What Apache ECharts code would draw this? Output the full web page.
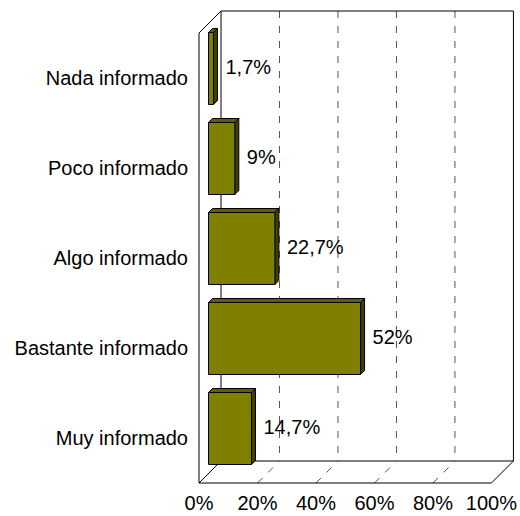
<!DOCTYPE html>
<html>
<head>
<meta charset="utf-8">
<script src="https://cdn.jsdelivr.net/npm/echarts@6/dist/echarts.min.js"></script>
<style>
  html, body { margin: 0; padding: 0; background: #fff; }
  #chart { width: 520px; height: 516px; }
</style>
</head>
<body>
<div id="chart"></div>
<script>
// data
const categories = ['Nada informado', 'Poco informado', 'Algo informado', 'Bastante informado', 'Muy informado'];
const values = [1.7, 9, 22.7, 52, 14.7];
const xTicks = [0, 20, 40, 60, 80, 100];

const FONT = 'Arial, "Liberation Sans", sans-serif';
const DEPTH = 22;      // depth of the 3d box
const BAR_SHIFT = 9.5; // bar front face sits a bit behind the front plane
const BAR_DEPTH = 4;

function fmt(v) {
    return String(v).replace('.', ',') + '%';
}

// back wall, left wall and floor of the 3d box
function renderFrame(params, api) {
    const cs = params.coordSys;
    const x = cs.x, y = cs.y, w = cs.width, h = cs.height, D = DEPTH;
    const children = [];
    const solid = { stroke: '#000', lineWidth: 1, fill: null };
    const dashed = { stroke: '#555', lineWidth: 1, lineDash: [7, 8], fill: null };

    children.push({
        type: 'polygon',
        shape: { points: [[x, y + h], [x + w, y + h], [x + w + D, y + h - D], [x + D, y + h - D]] },
        style: { fill: '#fff', stroke: null }
    });
    xTicks.slice(1, -1).forEach(function (t) {
        const px = api.coord([t, 0])[0];
        children.push({ type: 'line', shape: { x1: px + D, y1: y - D, x2: px + D, y2: y + h - D }, style: dashed });
        children.push({ type: 'line', shape: { x1: px, y1: y + h, x2: px + D, y2: y + h - D }, style: dashed });
    });
    const lines = [
        [x + D, y - D, x + w + D, y - D],
        [x + w + D, y - D, x + w + D, y + h - D],
        [x + D, y - D, x + D, y + h - D],
        [x + D, y + h - D, x + w + D, y + h - D],
        [x, y, x + D, y - D],
        [x, y, x, y + h],
        [x, y + h, x + w, y + h],
        [x, y + h, x + D, y + h - D],
        [x + w, y + h, x + w + D, y + h - D]
    ];
    lines.forEach(function (l) {
        children.push({ type: 'line', shape: { x1: l[0], y1: l[1], x2: l[2], y2: l[3] }, style: solid });
    });
    return { type: 'group', children: children };
}

function renderBar(params, api) {
    const val = api.value(0);
    const idx = api.value(1);
    const end = api.coord([val, idx]);
    const start = api.coord([0, idx]);
    const bandH = api.size([0, 1])[1];
    const barH = bandH * 0.8;
    const s = BAR_SHIFT, d = BAR_DEPTH;
    const x0 = start[0] + s, x1 = end[0] + s, yc = end[1] - s;
    const yt = yc - barH / 2, yb = yc + barH / 2;
    const line = { stroke: '#000', lineWidth: 1 };
    return {
        type: 'group',
        children: [
            { type: 'polygon', shape: { points: [[x0, yt], [x1, yt], [x1 + d, yt - d], [x0 + d, yt - d]] },
              style: Object.assign({ fill: '#5e5e00' }, line) },
            { type: 'polygon', shape: { points: [[x1, yt], [x1 + d, yt - d], [x1 + d, yb - d], [x1, yb]] },
              style: Object.assign({ fill: '#404000' }, line) },
            { type: 'rect', shape: { x: x0, y: yt, width: x1 - x0, height: barH },
              style: Object.assign({ fill: '#808000' }, line) },
            { type: 'text', x: x1 + d + 8, y: yc - 2,
              style: { text: fmt(val), fill: '#000', font: '20px ' + FONT, align: 'left', verticalAlign: 'middle' } }
        ]
    };
}

const chart = echarts.init(document.getElementById('chart'), null, { renderer: 'svg' });
chart.setOption({
    animation: false,
    backgroundColor: '#fff',
    grid: { left: 199, top: 33, right: 26, bottom: 33, containLabel: false },
    xAxis: {
        type: 'value',
        min: xTicks[0],
        max: xTicks[xTicks.length - 1],
        interval: 20,
        axisLine: { show: false },
        axisTick: { show: false },
        splitLine: { show: false },
        axisLabel: {
            formatter: '{value}%',
            margin: 10,
            color: '#000',
            fontSize: 20,
            fontFamily: FONT
        }
    },
    yAxis: {
        type: 'category',
        data: categories,
        inverse: true,
        axisLine: { show: false },
        axisTick: { show: false },
        splitLine: { show: false },
        axisLabel: {
            margin: 11,
            padding: [3, 0, 0, 0],
            color: '#000',
            fontSize: 20,
            fontFamily: FONT
        }
    },
    series: [
        {
            type: 'custom',
            z: 1,
            silent: true,
            renderItem: renderFrame,
            data: [[0, 0]]
        },
        {
            type: 'custom',
            z: 2,
            renderItem: renderBar,
            encode: { x: 0, y: 1 },
            data: values.map(function (v, i) { return [v, i]; })
        }
    ]
});
</script>
</body>
</html>
